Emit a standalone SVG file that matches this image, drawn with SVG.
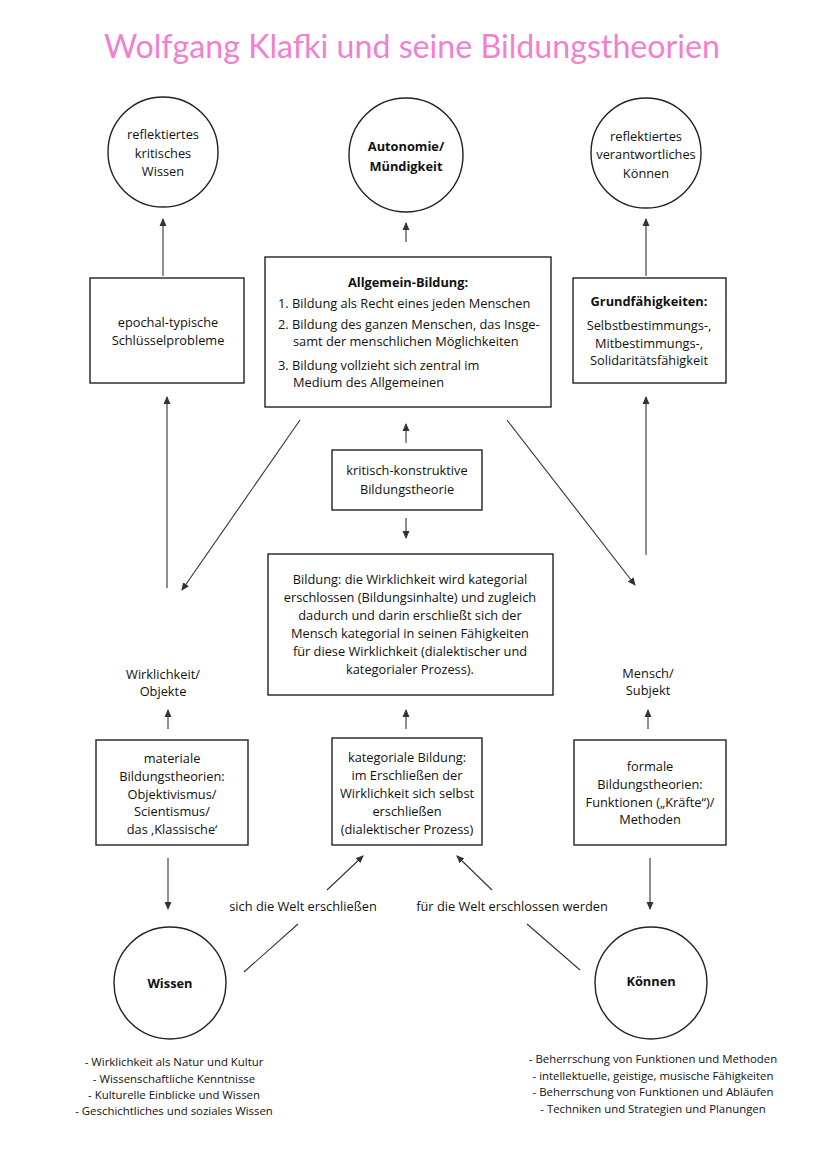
<svg xmlns="http://www.w3.org/2000/svg" width="828" height="1171" viewBox="0 0 828 1171">
<defs>
<marker id="ah" markerWidth="8" markerHeight="8" refX="7" refY="4" orient="auto" markerUnits="userSpaceOnUse">
<path d="M0,0.5 L8,4 L0,7.5 Z" fill="#333"/>
</marker>
<style>
.t{font-family:"Open Sans","Noto Sans","Liberation Sans",sans-serif;font-size:12.8px;fill:#111;text-anchor:middle}
.b{font-weight:bold}
.l{text-anchor:start}
.s{font-family:"Open Sans","Liberation Sans",sans-serif;font-size:11.4px;fill:#111;text-anchor:middle}
.box{fill:none;stroke:#222;stroke-width:1.4}
.c{fill:none;stroke:#222;stroke-width:1.4}
.ln{stroke:#333;stroke-width:1.1;fill:none}
.ar{stroke:#333;stroke-width:1.1;fill:none;marker-end:url(#ah)}
</style>
</defs>
<rect width="828" height="1171" fill="#fff"/>
<text x="412" y="58" font-family="Lato,'Open Sans',sans-serif" font-size="32" fill="#f27fcf" text-anchor="middle" textLength="616" lengthAdjust="spacingAndGlyphs">Wolfgang Klafki und seine Bildungstheorien</text>

<g id="circle-wissen-kritisch">
<circle class="c" cx="163" cy="152" r="55"/>
<text class="t" x="163" y="139">reflektiertes</text>
<text class="t" x="163" y="158">kritisches</text>
<text class="t" x="163" y="176">Wissen</text>
</g>
<g id="circle-autonomie">
<circle class="c" cx="406" cy="155" r="57"/>
<text class="t b" x="406" y="151" font-size="13.5">Autonomie/</text>
<text class="t b" x="406" y="171" font-size="13.5">Mündigkeit</text>
</g>
<g id="circle-koennen-verantwortlich">
<circle class="c" cx="646" cy="153" r="55"/>
<text class="t" x="646" y="141">reflektiertes</text>
<text class="t" x="646" y="159">verantwortliches</text>
<text class="t" x="646" y="178">Können</text>
</g>

<g id="box-epochal">
<rect class="box" x="90" y="278" width="154" height="105"/>
<text class="t" x="168" y="327">epochal-typische</text>
<text class="t" x="168" y="345">Schlüsselprobleme</text>
</g>
<g id="box-allgemein">
<rect class="box" x="265" y="257" width="286" height="150"/>
<text class="t b" x="408" y="287">Allgemein-Bildung:</text>
<text class="t l" x="278" y="308">1. Bildung als Recht eines jeden Menschen</text>
<text class="t l" x="278" y="329">2. Bildung des ganzen Menschen, das Insge-</text>
<text class="t l" x="293" y="346">samt der menschlichen Möglichkeiten</text>
<text class="t l" x="278" y="370">3. Bildung vollzieht sich zentral im</text>
<text class="t l" x="293" y="387">Medium des Allgemeinen</text>
</g>
<g id="box-grund">
<rect class="box" x="573" y="278" width="153" height="105"/>
<text class="t b" x="649" y="306">Grundfähigkeiten:</text>
<text class="t" x="649" y="330">Selbstbestimmungs-,</text>
<text class="t" x="649" y="348">Mitbestimmungs-,</text>
<text class="t" x="649" y="365">Solidaritätsfähigkeit</text>
</g>

<g id="box-kritisch">
<rect class="box" x="332" y="450" width="150" height="60"/>
<text class="t" x="407" y="475">kritisch-konstruktive</text>
<text class="t" x="407" y="494">Bildungstheorie</text>
</g>

<g id="box-bildung">
<rect class="box" x="268" y="554" width="285" height="141"/>
<text class="t" x="410" y="584">Bildung: die Wirklichkeit wird kategorial</text>
<text class="t" x="410" y="602">erschlossen (Bildungsinhalte) und zugleich</text>
<text class="t" x="410" y="620">dadurch und darin erschließt sich der</text>
<text class="t" x="410" y="638">Mensch kategorial in seinen Fähigkeiten</text>
<text class="t" x="410" y="656">für diese Wirklichkeit (dialektischer und</text>
<text class="t" x="410" y="674">kategorialer Prozess).</text>
</g>

<g id="label-wirklichkeit">
<text class="t" x="163" y="679">Wirklichkeit/</text>
<text class="t" x="163" y="696">Objekte</text>
</g>
<g id="label-mensch">
<text class="t" x="648" y="678">Mensch/</text>
<text class="t" x="648" y="695">Subjekt</text>
</g>

<g id="box-materiale">
<rect class="box" x="96" y="740" width="152" height="105"/>
<text class="t" x="172" y="763">materiale</text>
<text class="t" x="172" y="781">Bildungstheorien:</text>
<text class="t" x="172" y="799">Objektivismus/</text>
<text class="t" x="172" y="816">Scientismus/</text>
<text class="t" x="172" y="834">das ‚Klassische‘</text>
</g>
<g id="box-kategoriale">
<rect class="box" x="332" y="738" width="150" height="107"/>
<text class="t" x="407" y="762">kategoriale Bildung:</text>
<text class="t" x="407" y="780">im Erschließen der</text>
<text class="t" x="407" y="798">Wirklichkeit sich selbst</text>
<text class="t" x="407" y="816">erschließen</text>
<text class="t" x="407" y="834">(dialektischer Prozess)</text>
</g>
<g id="box-formale">
<rect class="box" x="574" y="740" width="152" height="105"/>
<text class="t" x="650" y="771">formale</text>
<text class="t" x="650" y="789">Bildungstheorien:</text>
<text class="t" x="650" y="807">Funktionen („Kräfte“)/</text>
<text class="t" x="650" y="824">Methoden</text>
</g>

<g id="circle-wissen">
<circle class="c" cx="170" cy="983" r="56"/>
<text class="t b" x="170" y="988" font-size="13.5">Wissen</text>
</g>
<g id="circle-koennen">
<circle class="c" cx="651" cy="983" r="56"/>
<text class="t b" x="651" y="986" font-size="13.5">Können</text>
</g>

<g id="labels-welt">
<text class="t" x="303" y="911">sich die Welt erschließen</text>
<text class="t" x="512" y="911">für die Welt erschlossen werden</text>
</g>

<g id="list-wissen">
<text class="s" x="174" y="1066">- Wirklichkeit als Natur und Kultur</text>
<text class="s" x="174" y="1083">- Wissenschaftliche Kenntnisse</text>
<text class="s" x="174" y="1099">- Kulturelle Einblicke und Wissen</text>
<text class="s" x="174" y="1115">- Geschichtliches und soziales Wissen</text>
</g>
<g id="list-koennen">
<text class="s" x="653" y="1063">- Beherrschung von Funktionen und Methoden</text>
<text class="s" x="653" y="1080">- intellektuelle, geistige, musische Fähigkeiten</text>
<text class="s" x="653" y="1096">- Beherrschung von Funktionen und Abläufen</text>
<text class="s" x="653" y="1113">- Techniken und Strategien und Planungen</text>
</g>

<g id="connectors">
<line class="ar" x1="163" y1="276" x2="163" y2="219"/>
<line class="ar" x1="406" y1="242" x2="406" y2="223"/>
<line class="ar" x1="646" y1="276" x2="646" y2="219"/>
<line class="ar" x1="167" y1="588" x2="167" y2="397"/>
<line class="ar" x1="646" y1="555" x2="646" y2="397"/>
<line class="ar" x1="300" y1="420" x2="182" y2="590"/>
<line class="ar" x1="507" y1="420" x2="635" y2="585"/>
<line class="ar" x1="406" y1="443" x2="406" y2="424"/>
<line class="ar" x1="406" y1="518" x2="406" y2="538"/>
<line class="ar" x1="168" y1="729" x2="168" y2="710"/>
<line class="ar" x1="406" y1="729" x2="406" y2="710"/>
<line class="ar" x1="648" y1="729" x2="648" y2="710"/>
<line class="ar" x1="168" y1="858" x2="168" y2="909"/>
<line class="ar" x1="650" y1="858" x2="650" y2="909"/>
<line class="ln" x1="244" y1="972" x2="298" y2="924"/>
<line class="ar" x1="327" y1="890" x2="363" y2="856"/>
<line class="ar" x1="492" y1="890" x2="457" y2="856"/>
<line class="ln" x1="527" y1="924" x2="580" y2="970"/>
</g>
</svg>
